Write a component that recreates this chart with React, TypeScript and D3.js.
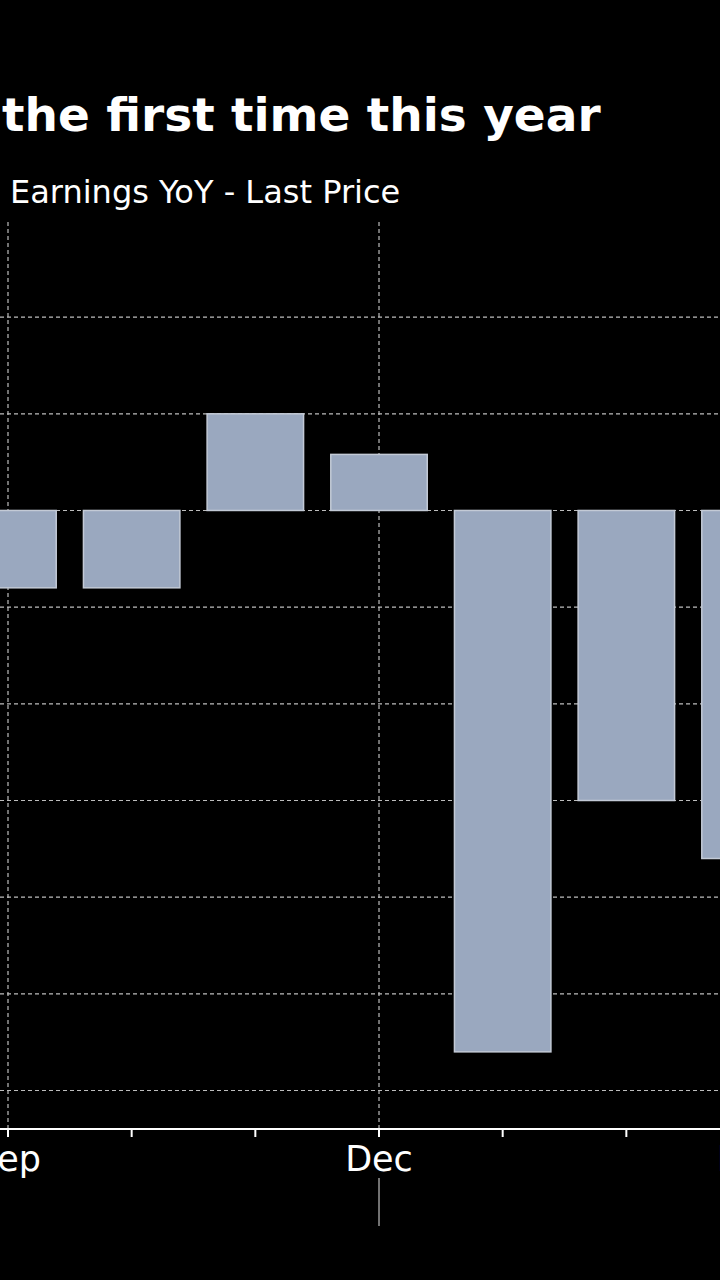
import * as d3 from 'd3';

// monthly values, in grid units (one dashed line = 1)
const months = ['Sep', 'Oct', 'Nov', 'Dec', 'Jan', 'Feb', 'Mar'];
const values = [-0.8, -0.8, 1.0, 0.58, -5.6, -3.0, -3.6];
const labelled = ['Sep', 'Dec', 'Mar'];
const gridValues = [2, 1, 0, -1, -2, -3, -4, -5, -6];

const W = 720;
const H = 1280;

export default function App() {
  // set the dimensions of the plot
  const top = 222;
  const bottom = 1129;

  const x = d3.scalePoint<string>().domain(months).range([8, 8 + 6 * 123.67]);
  const y = d3.scaleLinear().domain([-6.398, 2.984]).range([bottom, top]);
  const barW = x.step() * 0.78;
  const font = '"DejaVu Sans", Verdana, sans-serif';

  return (
    <svg
      width={W}
      height={H}
      style={{ position: 'absolute', left: 0, top: 0, background: '#000' }}
    >
      <rect width={W} height={H} fill="#000" />
      <text x={2} y={131} fill="#fff" fontFamily={font} fontWeight="bold" fontSize={47}>
        the first time this year
      </text>
      <text x={10} y={203} fill="#fff" fontFamily={font} fontSize={32}>
        Earnings YoY - Last Price
      </text>

      {/* grid */}
      {gridValues.map((v) => (
        <line
          key={'h' + v}
          x1={0}
          x2={W}
          y1={y(v)}
          y2={y(v)}
          stroke="#bdbdbd"
          strokeWidth={1.2}
          strokeDasharray="4,3"
        />
      ))}
      {labelled.map((m) => (
        <line
          key={'v' + m}
          x1={x(m)}
          x2={x(m)}
          y1={top}
          y2={bottom}
          stroke="#bdbdbd"
          strokeWidth={1.2}
          strokeDasharray="4,3"
        />
      ))}

      {/* bars */}
      {months.map((m, i) => (
        <rect
          key={m}
          x={(x(m) || 0) - barW / 2}
          y={y(Math.max(0, values[i]))}
          width={barW}
          height={Math.abs(y(values[i]) - y(0))}
          fill="#9aa8bf"
          stroke="#c3cad6"
          strokeWidth={1.5}
        />
      ))}

      {/* x axis */}
      <line x1={0} x2={W} y1={bottom} y2={bottom} stroke="#fff" strokeWidth={2} />
      {months.map((m) => (
        <line
          key={'t' + m}
          x1={x(m)}
          x2={x(m)}
          y1={bottom}
          y2={bottom + 8}
          stroke="#fff"
          strokeWidth={2}
        />
      ))}
      {labelled.map((m) => (
        <text
          key={'l' + m}
          x={x(m)}
          y={1171}
          fill="#fff"
          fontFamily={font}
          fontSize={35}
          textAnchor="middle"
        >
          {m}
        </text>
      ))}
      <line
        x1={x('Dec')}
        x2={x('Dec')}
        y1={1178}
        y2={1226}
        stroke="#999"
        strokeWidth={1.5}
      />
    </svg>
  );
}
